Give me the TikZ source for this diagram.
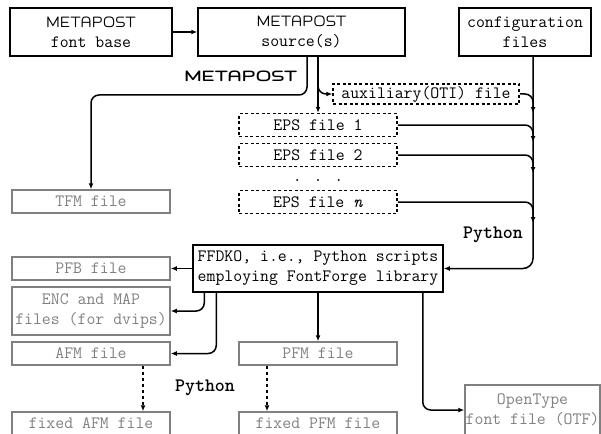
\documentclass[tikz,border=0pt]{standalone}
\usepackage{mflogo}
\usetikzlibrary{arrows.meta}

\definecolor{outgray}{gray}{0.5}

\tikzset{
  srcbox/.style={draw, line width=1.5pt, minimum height=48pt, align=center, inner sep=0pt},
  tmpbox/.style={draw, dash pattern=on 3pt off 2.5pt, line width=1.5pt, minimum height=23pt, inner sep=0pt},
  outbox/.style={draw=outgray, text=outgray, line width=1.5pt, minimum width=158pt, minimum height=23pt, align=center, inner sep=0pt},
  conn/.style={line width=1.5pt, -{Latex[length=6pt,width=5pt]}, rounded corners=8pt},
  fixconn/.style={conn, dash pattern=on 3pt off 3pt},
  toollabel/.style={font=\fontsize{19}{22}\selectfont\ttfamily\bfseries}
}

\begin{document}
\begin{tikzpicture}[x=1pt, y=-1pt, font=\fontsize{17.3}{20}\selectfont\ttfamily]
\useasboundingbox (0,0) rectangle (601,433);

% sources
\node[srcbox, minimum width=162pt] (base) at (91,32) {\MP\\font base};
\node[srcbox, minimum width=207pt] (src) at (301.5,32) {\MP\\source(s)};
\node[srcbox, minimum width=132pt] (cfg) at (525,32) {configuration\\files};

% intermediate files
\node[tmpbox, minimum width=186pt, minimum height=20pt] (aux) at (426,94) {auxiliary(OTI) file};
\node[tmpbox, minimum width=158pt] (eps1) at (318,125) {EPS file 1};
\node[tmpbox, minimum width=158pt] (eps2) at (318,155) {EPS file 2};
\node (dots) at (318,181) {. . .};
\node[tmpbox, minimum width=158pt] (epsn) at (318,202) {EPS file \textit{n}};

% converter
\node[srcbox, minimum width=250pt, minimum height=47pt] (ffdko) at (318,268.5) {FFDKO, i.e., Python scripts\\employing FontForge library};

% results
\node[outbox] (tfm) at (91,201.5) {TFM file};
\node[outbox] (pfb) at (91,268.5) {PFB file};
\node[outbox, minimum height=48pt] (enc) at (91,311) {ENC and MAP\\files (for dvips)};
\node[outbox] (afm) at (91,353.5) {AFM file};
\node[outbox] (pfm) at (318,353.5) {PFM file};
\node[outbox] (fafm) at (91,423.5) {fixed AFM file};
\node[outbox] (fpfm) at (318,423.5) {fixed PFM file};
\node[outbox, minimum width=135pt, minimum height=50pt] (otf) at (532.5,410) {OpenType\\font file (OTF)};

% tool labels
\node[font=\fontsize{18}{21}\selectfont\bfseries, anchor=east] (mplabel) at (301,76) {\scalebox{1.2}[1]{\MP}};
\node[toollabel] (pylabel) at (493,235) {Python};
\node[toollabel] (fixlabel) at (205,388) {Python};

% connectors
\coordinate (mpturn) at (91,95);
\coordinate (cfgline) at ([xshift=8pt]cfg.south);
\draw[conn] (base) -- (src);
\draw[conn] ([xshift=5.5pt]src.south) |- (mpturn) -- (tfm);
\draw[conn] (src.south -| eps1) -- (eps1);
\draw[conn] (src.south -| eps1) |- (aux.west);
\draw[conn, rounded corners=10pt] (cfgline) |- (ffdko.east);
\draw[conn] (aux.east) -| ([yshift=-19pt]aux.east -| cfgline);
\draw[conn] (eps1.east) -| ([yshift=-17pt]eps1.east -| cfgline);
\draw[conn] (eps2.east) -| ([yshift=-18pt]eps2.east -| cfgline);
\draw[conn] (epsn.east) -| ([yshift=-21pt]epsn.east -| cfgline);

\draw[conn] (ffdko.west) -- (pfb.east);
\draw[conn] ([xshift=12pt]ffdko.south west) |- (enc.east);
\draw[conn] ([xshift=24pt]ffdko.south west) |- (afm.east);
\draw[conn] (ffdko) -- (pfm);
\draw[conn] ([xshift=-21pt]ffdko.south east) |- (otf.west);

\draw[fixconn] ([xshift=52pt]afm.south) -- ([xshift=52pt]fafm.north);
\draw[fixconn] ([xshift=-51pt]pfm.south) -- ([xshift=-51pt]fpfm.north);
\end{tikzpicture}
\end{document}
